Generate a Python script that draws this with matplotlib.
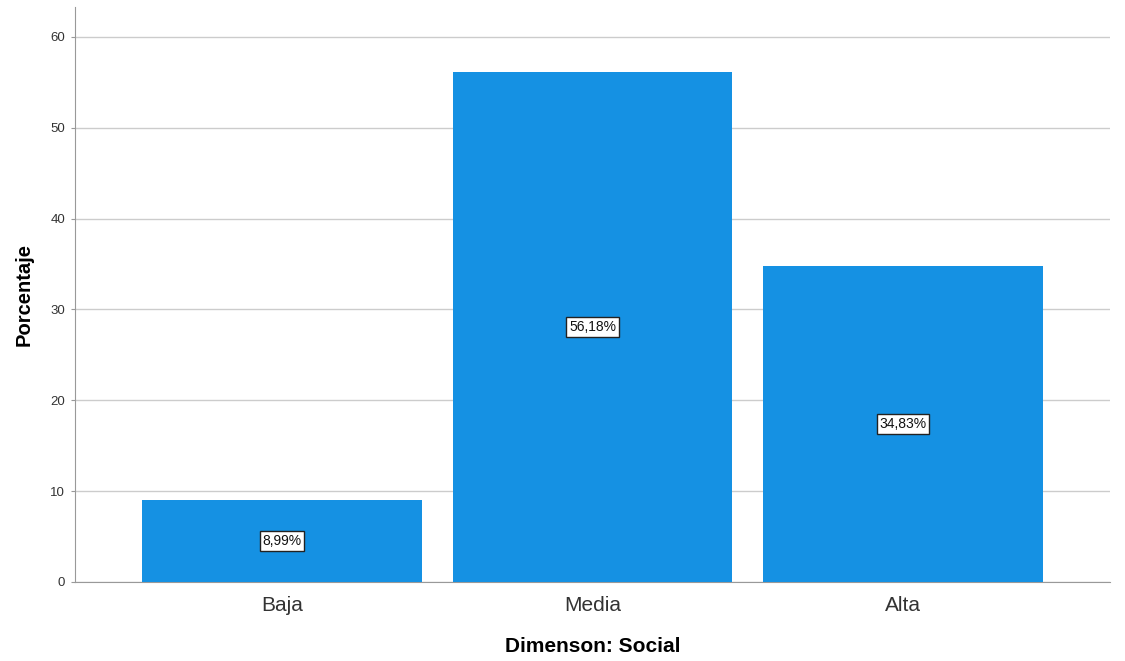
import matplotlib
matplotlib.use("Agg")
import matplotlib.pyplot as plt
import numpy as np

plt.rcParams['font.family'] = ['Liberation Sans', 'DejaVu Sans']

# Datos
categorias = ["Baja", "Media", "Alta"]
porcentajes = [8.99, 56.18, 34.83]
etiquetas = ["8,99%", "56,18%", "34,83%"]
ticks_y = [0, 10, 20, 30, 40, 50, 60]

fig = plt.figure(figsize=(11.25, 6.61), dpi=100)
ax = fig.add_axes([75 / 1125, 1 - 582 / 661, 1035 / 1125, 575 / 661])

x = np.arange(len(categorias))
ax.bar(x, porcentajes, width=0.9, color="#1591E3", zorder=3)

for xi, val, txt in zip(x, porcentajes, etiquetas):
    ax.text(xi, val / 2, txt, ha="center", va="center", fontsize=10, color="#111111",
            zorder=4,
            bbox=dict(boxstyle="square,pad=0.2", facecolor="white", edgecolor="#222222", linewidth=1))

ax.set_xlim(-0.667, 2.667)
ax.set_ylim(0, 63.3)
ax.set_yticks(ticks_y)
ax.set_xticks(x)
ax.set_xticklabels(categorias, fontsize=15, color="#333333")
ax.tick_params(axis="x", length=0, pad=10)
ax.tick_params(axis="y", length=3, color="#999999", labelsize=9.5, labelcolor="#333333", pad=4)

ax.grid(axis="y", color="#cccccc", linewidth=1, zorder=0)
for s in ["top", "right"]:
    ax.spines[s].set_visible(False)
ax.spines["left"].set_color("#999999")
ax.spines["bottom"].set_color("#999999")

ax.set_ylabel("Porcentaje", fontsize=14.5, fontweight="bold", labelpad=12)
ax.set_xlabel("Dimenson: Social", fontsize=15, fontweight="bold", labelpad=16)

fig.savefig("out.png", dpi=100)
